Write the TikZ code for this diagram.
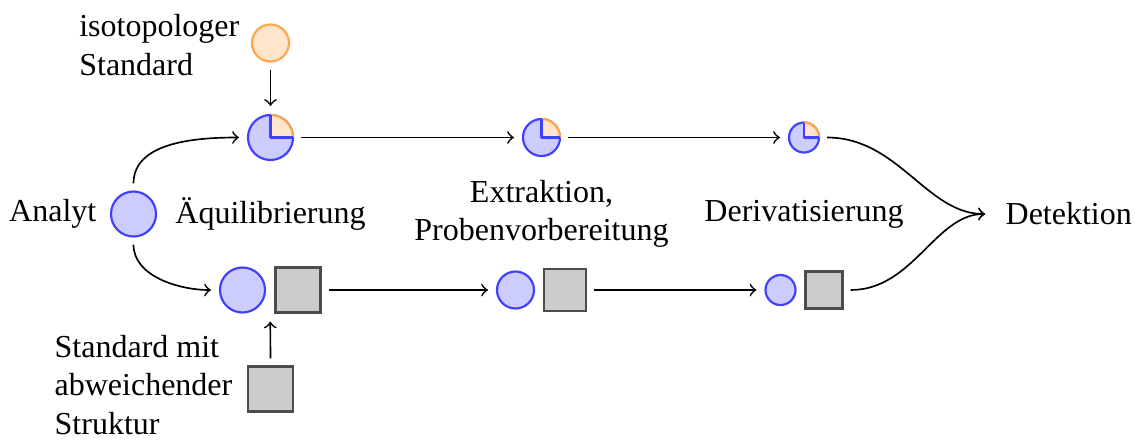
\documentclass[tikz,border=0pt]{standalone}
\usepackage{fontspec}
\setmainfont{Liberation Serif}
\usetikzlibrary{fit}
\newcommand\isowedge[2]{%
  \fill[orange!20] (#1.center) -- ++(0:#2) arc[start angle=0,end angle=90,radius=#2] -- cycle;
  \draw[orange!70, line width=0.65pt] ([shift={(0:#2)}]#1.center) arc[start angle=0,end angle=90,radius=#2];
  \draw[blue!75, line width=0.65pt, line join=round] ([shift={(90:#2)}]#1.center) -- (#1.center) -- ++(0:#2);
}
\begin{document}
\begin{tikzpicture}[x=0.3pt,y=-0.3pt,
  font=\fontsize{9.6pt}{11.5pt}\selectfont,
  analyte/.style={circle, draw=blue!75, fill=blue!20, line width=0.65pt, inner sep=0pt},
  isostd/.style={circle, draw=orange!70, fill=orange!20, line width=0.65pt, inner sep=0pt},
  strucstd/.style={rectangle, draw=black!70, fill=gray!40, line width=0.65pt, inner sep=0pt},
  lbl/.style={inner sep=0pt},
  group/.style={inner sep=0pt, outer sep=0pt},
  conn/.style={->, line width=0.5pt, shorten <=2.1pt, shorten >=2.4pt},
]
\useasboundingbox (0,0) rectangle (1135,439);

% analyte
\node[analyte, minimum size=13.5pt] (an) at (133.5,214) {};
\node[lbl, anchor=east] (anlbl) at (97,214) {Analyt};

% isotopologue standard
\node[isostd, minimum size=11.1pt] (iso) at (270.5,43) {};
\node[lbl, anchor=east, align=left] (isolbl) at (240,45) {isotopologer\\Standard};

% upper row (pies)
\node[analyte, minimum size=13.5pt] (p1) at (270.5,137.5) {};
\node[analyte, minimum size=11.1pt] (p2) at (541.5,137.5) {};
\node[analyte, minimum size=9pt] (p3) at (804,137.5) {};
\isowedge{p1}{6.75pt}
\isowedge{p2}{5.55pt}
\isowedge{p3}{4.5pt}

% lower row (pairs)
\node[analyte, minimum size=13.5pt] (c1) at (242.5,290) {};
\node[strucstd, minimum size=13.5pt] (s1) at (298,290) {};
\node[group, fit=(c1)(s1)] (g1) {};
\node[analyte, minimum size=11.1pt] (c2) at (515.5,290) {};
\node[strucstd, minimum size=12.6pt] (s2) at (565,290) {};
\node[group, fit=(c2)(s2)] (g2) {};
\node[analyte, minimum size=9pt] (c3) at (780.5,290) {};
\node[strucstd, minimum size=11.1pt] (s3) at (824,290) {};
\node[group, fit=(c3)(s3)] (g3) {};

% structural standard
\node[strucstd, minimum size=13.5pt] (ss) at (270.5,389) {};
\node[lbl, anchor=east, align=left] (sslbl) at (233,385) {Standard mit\\abweichender\\Struktur};

% step labels
\node[lbl] (eq) at (270.5,214) {Äquilibrierung};
\node[lbl, align=center] (ex) at (541.5,214) {Extraktion,\\Probenvorbereitung};
\node[lbl] (der) at (804,214) {Derivatisierung};
\node[lbl, anchor=west] (det) at (1005,214) {Detektion};

% connectors
\draw[conn] (an.north) to[out=90,in=180] (p1.west);
\draw[conn] (an.south) to[out=-90,in=180] (g1.west);
\draw[conn] (iso.south) -- (p1.north);
\draw[conn] (ss.north) -- (g1.south);
\draw[conn] (p1.east) -- (p2.west);
\draw[conn] (p2.east) -- (p3.west);
\draw[conn] (g1.east) -- (g2.west);
\draw[conn] (g2.east) -- (g3.west);
\draw[conn, shorten >=6pt] (p3.east) to[out=0,in=180] (det.west);
\draw[conn, shorten >=6pt] (g3.east) to[out=0,in=180] (det.west);
\end{tikzpicture}
\end{document}
